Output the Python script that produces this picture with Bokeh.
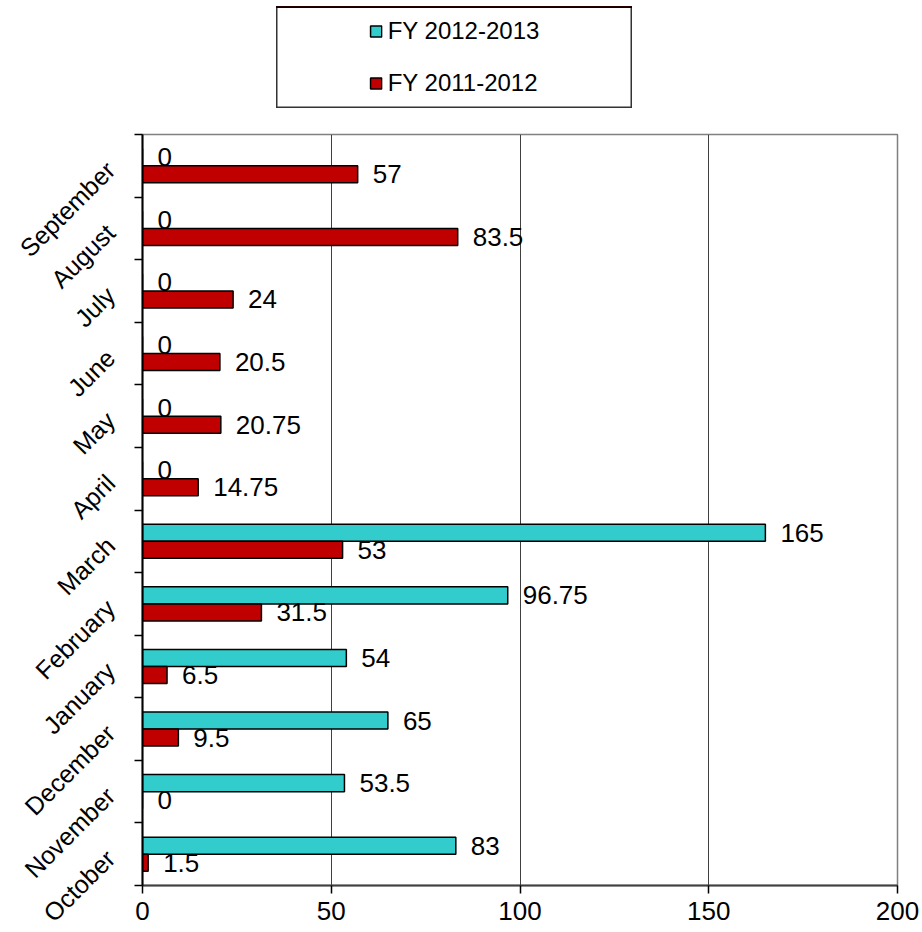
import math
from bokeh.plotting import figure
from bokeh.models import Range1d, FixedTicker, Legend, LegendItem, Spacer, ColumnDataSource
from bokeh.layouts import column, row
from bokeh.core.properties import value
from bokeh.embed import file_html
from bokeh.resources import INLINE

# ---- data ----
months = ["October", "November", "December", "January", "February", "March",
          "April", "May", "June", "July", "August", "September"]
fy_2012_2013 = [83, 53.5, 65, 54, 96.75, 165, 0, 0, 0, 0, 0, 0]
fy_2011_2012 = [1.5, 0, 9.5, 6.5, 31.5, 53, 14.75, 20.75, 20.5, 24, 83.5, 57]
x_ticks = [0, 50, 100, 150, 200]
series_names = ["FY 2012-2013", "FY 2011-2012"]
series_colors = ["#33CCCC", "#C00000"]

FONT = "Liberation Sans"
BAR_H = 0.272
pos = list(range(len(months)))


def fmt(v):
    return f"{v:g}"


src_a = ColumnDataSource(dict(y=[q + BAR_H / 2 for q in pos], v=fy_2012_2013,
                              lab=[fmt(v) for v in fy_2012_2013]))
src_b = ColumnDataSource(dict(y=[q - BAR_H / 2 for q in pos], v=fy_2011_2012,
                              lab=[fmt(v) for v in fy_2011_2012]))
sources = [src_a, src_b]

# ---- main chart ----
p = figure(width=920, height=822, x_range=Range1d(0, 200), y_range=Range1d(-0.5, 11.5),
           output_backend="svg", toolbar_location=None,
           min_border_left=142, min_border_right=23, min_border_top=26, min_border_bottom=45,
           outline_line_color="#808080", outline_line_width=1.5,
           background_fill_color="white", border_fill_color="white")

for src, col in zip(sources, series_colors):
    p.hbar(y="y", left=0, right="v", height=BAR_H, source=src,
           fill_color=col, line_color="black", line_width=1.5)
    p.text(x="v", y="y", text="lab", source=src, x_offset=15,
           text_align="left", text_baseline="middle",
           text_font=value(FONT), text_font_size="26px", text_color="black")

p.xaxis.ticker = FixedTicker(ticks=x_ticks)
p.xaxis.major_tick_out = 8
p.xaxis.major_tick_in = 0
p.xaxis.minor_tick_out = 0
p.xaxis.minor_tick_in = 0
p.xaxis.axis_line_color = "#404040"
p.xaxis.axis_line_width = 2
p.xaxis.major_tick_line_color = "black"
p.xaxis.major_tick_line_width = 1.5
p.xaxis.major_label_text_font = FONT
p.xaxis.major_label_text_font_size = "26px"
p.xaxis.major_label_text_color = "black"
p.xaxis.major_label_standoff = 8

p.yaxis.ticker = FixedTicker(ticks=pos, minor_ticks=[i - 0.5 for i in range(len(months) + 1)])
p.yaxis.major_tick_out = 0
p.yaxis.major_tick_in = 0
p.yaxis.minor_tick_out = 8
p.yaxis.minor_tick_in = 0
p.yaxis.minor_tick_line_color = "black"
p.yaxis.minor_tick_line_width = 1.5
p.yaxis.axis_line_color = "black"
p.yaxis.axis_line_width = 2
p.yaxis.major_label_overrides = {i: m for i, m in enumerate(months)}
p.yaxis.major_label_orientation = math.pi / 4
p.yaxis.major_label_standoff = 24
p.yaxis.major_label_text_font = FONT
p.yaxis.major_label_text_font_size = "25px"
p.yaxis.major_label_text_color = "black"

p.xgrid.ticker = FixedTicker(ticks=x_ticks[1:])
p.xgrid.grid_line_color = "#404040"
p.xgrid.grid_line_width = 1
p.ygrid.grid_line_color = None

# ---- legend box (proxy renderers kept outside the visible range) ----
lf = figure(width=356, height=102, x_range=Range1d(0, 1), y_range=Range1d(-3, -2),
            output_backend="svg", toolbar_location=None,
            x_axis_location=None, y_axis_location=None, min_border=0,
            outline_line_color="#333333", outline_line_width=2,
            background_fill_color="white", border_fill_color="white")
lf.grid.visible = False
items = []
for name, src, col in zip(series_names, sources, series_colors):
    r = lf.hbar(y="y", left=0, right="v", height=BAR_H, source=src, fill_color=col,
                line_color="black", line_width=1.5)
    items.append(LegendItem(label=name, renderers=[r]))
leg = Legend(items=items, location="center", border_line_color=None,
             background_fill_alpha=0, padding=0, margin=0, spacing=24,
             label_height=26, glyph_width=14, glyph_height=14, label_standoff=5,
             label_text_font=FONT, label_text_font_size="24px", label_text_color="black")
lf.add_layout(leg)

layout = column(Spacer(width=10, height=6), row(Spacer(width=276, height=102), lf), p)

open("out.html", "w").write(file_html(layout, INLINE))
